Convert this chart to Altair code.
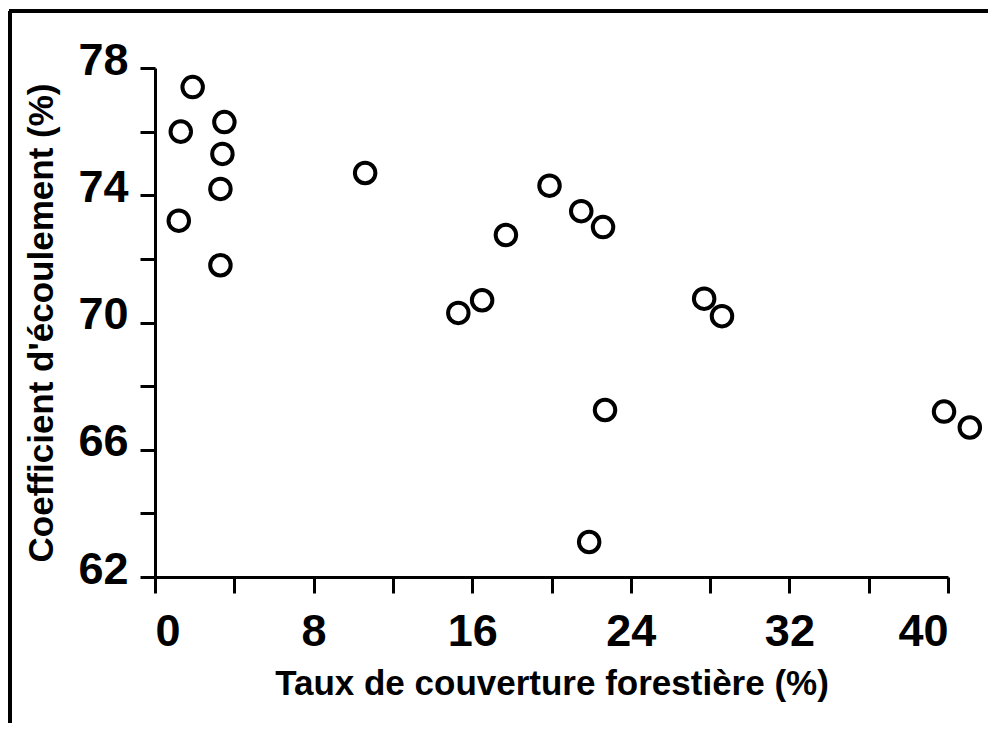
import altair as alt
import pandas as pd

# Taux de couverture forestière (%)
forest_cover = [1.9, 1.3, 3.5, 3.4, 3.3, 1.2, 3.3, 10.6, 15.3, 16.5,
                17.7, 19.9, 21.5, 22.6, 22.7, 21.9, 27.7, 28.6, 39.8, 41.1]
# Coefficient d'écoulement (%)
runoff_coef = [77.4, 76.0, 76.3, 75.3, 74.2, 73.2, 71.8, 74.7, 70.3, 70.7,
               72.75, 74.3, 73.5, 73.0, 67.25, 63.1, 70.75, 70.2, 67.2, 66.7]

x_ticks = [0, 4, 8, 12, 16, 20, 24, 28, 32, 36, 40]
y_ticks = [62, 64, 66, 68, 70, 72, 74, 76, 78]

df = pd.DataFrame({"x": forest_cover, "y": runoff_coef})

FONT = "Liberation Sans, Arial, Helvetica, sans-serif"
W, H = 793, 509

points = alt.Chart(df).mark_point(
    shape="circle", filled=False, color="black", size=420, strokeWidth=4, opacity=1
).encode(
    x=alt.X("x:Q",
            scale=alt.Scale(domain=[0, 40], nice=False, zero=False),
            axis=alt.Axis(values=x_ticks,
                          labelExpr="datum.value % 8 == 0 ? datum.label : ''",
                          title="Taux de couverture forestière (%)",
                          tickSize=16, tickWidth=3, domainWidth=3,
                          labelPadding=16, titlePadding=12)),
    y=alt.Y("y:Q",
            scale=alt.Scale(domain=[62, 78], nice=False, zero=False),
            axis=alt.Axis(values=y_ticks,
                          labelExpr="datum.value % 4 == 2 ? datum.label : ''",
                          title="Coefficient d'écoulement (%)",
                          tickSize=15, tickWidth=3, domainWidth=3,
                          labelPadding=12, labelOffset=-8, titlePadding=18)),
)

frame_left = alt.Chart(df).mark_rule(color="black", strokeWidth=2.5).encode(
    x=alt.value(-145), y=alt.value(-57), y2=alt.value(H + 200)
)
frame_top = alt.Chart(df).mark_rule(color="black", strokeWidth=2.5).encode(
    x=alt.value(-146), x2=alt.value(W + 60), y=alt.value(-57)
)

chart = alt.layer(frame_left, frame_top, points).properties(
    width=W, height=H,
    autosize=alt.AutoSizeParams(type="none"),
    padding={"left": 147, "top": 60, "right": 40, "bottom": 146},
).configure_view(stroke=None).configure_axis(
    grid=False,
    domainColor="black", tickColor="black",
    labelColor="black", titleColor="black",
    labelFont=FONT, titleFont=FONT,
    labelFontSize=45, titleFontSize=35,
    labelFontWeight="bold", titleFontWeight="bold",
)

chart.save("out.html", embed_options={"renderer": "svg", "actions": False})
